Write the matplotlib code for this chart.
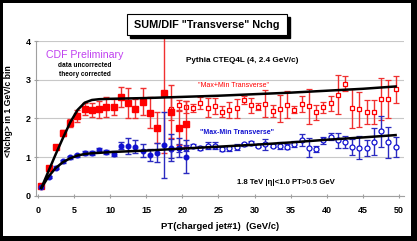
import matplotlib
matplotlib.use("Agg")
import matplotlib.pyplot as plt
from matplotlib.patches import Rectangle

# ---------------- data ----------------
pt_filled = [0.5, 1.5, 2.5, 3.5, 4.5, 5.5, 6.5, 7.5, 8.5, 9.5, 10.5,
             11.5, 12.5, 13.5, 14.5, 15.5, 16.5, 17.5, 18.5, 19.5, 20.5]
pt_open = [18.5, 19.5, 20.5, 21.5, 22.5, 23.5, 24.5, 25.5, 26.5, 27.5, 28.5,
           29.5, 30.5, 31.5, 32.5, 33.5, 34.5, 35.5, 36.5, 37.5, 38.5, 39.5,
           40.5, 41.5, 42.5, 43.5, 44.5, 45.5, 46.5, 47.5, 48.5, 49.5]

sum_filled = [0.26, 0.71, 1.26, 1.62, 1.88, 2.07, 2.24, 2.22, 2.24, 2.30, 2.30,
              2.56, 2.40, 2.25, 2.44, 2.15, 1.76, 2.65, 2.18, 1.76, 1.86]
sum_filled_err = [0.03, 0.03, 0.05, 0.08, 0.10, 0.15, 0.15, 0.18, 0.22, 0.25, 0.20,
                  0.25, 0.40, 0.25, 0.35, 0.40, 0.40, 1.55, 0.68, 0.45, 0.60]
sum_open = [2.25, 2.34, 2.30, 2.28, 2.40, 2.28, 2.32, 2.18, 2.22, 2.26, 2.48,
            2.34, 2.31, 2.38, 2.19, 2.25, 2.35, 2.23, 2.37, 2.32, 2.16, 2.29,
            2.39, 2.62, 2.90, 2.26, 2.24, 2.17, 2.17, 2.50, 2.50, 2.76]
sum_open_err = [0.30, 0.15, 0.15, 0.10, 0.15, 0.25, 0.20, 0.15, 0.20, 0.25, 0.10,
                0.20, 0.10, 0.35, 0.15, 0.35, 0.35, 0.10, 0.20, 0.45, 0.20, 0.15,
                0.20, 0.50, 0.20, 0.50, 0.45, 0.30, 0.30, 0.55, 0.50, 0.35]

dif_filled = [0.22, 0.48, 0.73, 0.89, 1.00, 1.05, 1.11, 1.11, 1.19, 1.13, 1.09,
              1.30, 1.29, 1.27, 1.17, 1.05, 1.11, 1.31, 1.24, 1.24, 1.01]
dif_filled_err = [0.03, 0.03, 0.03, 0.04, 0.04, 0.04, 0.05, 0.05, 0.05, 0.06, 0.07,
                  0.10, 0.20, 0.17, 0.17, 0.15, 0.25, 0.85, 0.35, 0.25, 0.43]
dif_open = [1.22, 1.23, 1.24, 1.29, 1.24, 1.30, 1.30, 1.20, 1.23, 1.27, 1.33,
            1.36, 1.30, 1.33, 1.30, 1.30, 1.27, 1.34, 1.44, 1.24, 1.21, 1.43,
            1.53, 1.43, 1.39, 1.26, 1.24, 1.24, 1.40, 1.67, 1.38, 1.26]
dif_open_err = [0.25, 0.10, 0.08, 0.06, 0.05, 0.08, 0.08, 0.05, 0.06, 0.08, 0.04,
                0.05, 0.05, 0.15, 0.05, 0.08, 0.06, 0.08, 0.15, 0.25, 0.08, 0.10,
                0.10, 0.20, 0.15, 0.20, 0.30, 0.20, 0.35, 0.40, 0.40, 0.27]

theory_pt = [0.5, 1.5, 2.5, 3.5, 4.5, 5.5, 6.5, 7.5, 8.5, 10, 15, 20, 25, 30, 35, 40, 45, 49.5]
theory_sum = [0.20, 0.64, 1.08, 1.50, 1.90, 2.22, 2.41, 2.48, 2.50, 2.51, 2.53, 2.56,
              2.59, 2.63, 2.67, 2.72, 2.77, 2.83]
theory_dif = [0.20, 0.50, 0.72, 0.87, 0.97, 1.04, 1.08, 1.10, 1.11, 1.13, 1.17, 1.22,
              1.27, 1.32, 1.38, 1.45, 1.51, 1.57]

x_ticks = [0, 5, 10, 15, 20, 25, 30, 35, 40, 45, 50]
y_ticks = [0, 1, 2, 3, 4]

# ---------------- figure ----------------
FONT = "Liberation Sans"
fig = plt.figure(figsize=(4.17, 2.41), dpi=100)
fig.patch.set_facecolor("white")

ax = fig.add_axes([0.0856, 0.188, 0.883, 0.6406])
ax.set_xlim(-0.28, 50.65)
ax.set_ylim(0, 4)

ax.set_yticks(y_ticks)
ax.set_xticks(x_ticks)
ax.grid(axis="y", color="#c8c8c8", lw=0.8)
ax.set_axisbelow(True)
for s in ["top", "right"]:
    ax.spines[s].set_visible(False)
for s in ["left", "bottom"]:
    ax.spines[s].set_color("#a0a0a0")
    ax.spines[s].set_linewidth(0.8)
ax.tick_params(axis="both", colors="#a0a0a0", length=3, width=0.8, direction="inout",
               labelcolor="black", pad=2)
ax.tick_params(axis="x", pad=6)
for lbl in ax.get_xticklabels() + ax.get_yticklabels():
    lbl.set_fontfamily(FONT)
    lbl.set_fontweight("bold")
    lbl.set_fontsize(6.5)

red = "#ff0000"
redbar = "#f03030"
blue = "#1010d0"
bluebar = "#2a2ac0"

# theory curves
ax.plot(theory_pt, theory_sum, color="black", lw=1.8, zorder=5)
ax.plot(theory_pt, theory_dif, color="black", lw=1.8, zorder=5)

ms = 3.8
ax.errorbar(pt_open, sum_open, yerr=sum_open_err, fmt="s", ms=ms - 0.3, mfc="white", mec=red,
            mew=0.9, ecolor=redbar, elinewidth=1.0, capsize=2.3, capthick=1.0, zorder=3,
            clip_on=False)
ax.errorbar(pt_filled, sum_filled, yerr=sum_filled_err, fmt="s", ms=ms, mfc=red, mec=red,
            ecolor=redbar, elinewidth=1.0, capsize=2.3, capthick=1.0, zorder=4, clip_on=False)
ax.errorbar(pt_open, dif_open, yerr=dif_open_err, fmt="o", ms=ms - 0.2, mfc="white", mec=blue,
            mew=0.9, ecolor=bluebar, elinewidth=1.0, capsize=2.3, capthick=1.0, zorder=3,
            clip_on=False)
ax.errorbar(pt_filled, dif_filled, yerr=dif_filled_err, fmt="o", ms=ms - 0.5, mfc=blue, mec=blue,
            ecolor=bluebar, elinewidth=1.0, capsize=2.3, capthick=1.0, zorder=4, clip_on=False)

# axis labels
ax.set_xlabel("PT(charged jet#1)  (GeV/c)", fontfamily=FONT, fontweight="bold",
              fontsize=6.8, labelpad=5)
fig.text(0.020, 0.54, "<Nchg> in 1 GeV/c bin", rotation=90, ha="center", va="center",
         fontfamily=FONT, fontweight="bold", fontsize=6.2)

# annotations
fig.text(85 / 417, 1 - 55 / 241, "CDF Preliminary", color="#c040f0", ha="center", va="center",
         fontfamily=FONT, fontsize=7.6)
fig.text(85 / 417, 1 - 65.5 / 241, "data uncorrected", ha="center", va="center",
         fontfamily=FONT, fontweight="bold", fontsize=4.7)
fig.text(85 / 417, 1 - 75 / 241, "theory corrected", ha="center", va="center",
         fontfamily=FONT, fontweight="bold", fontsize=4.7)
fig.text(242 / 417, 1 - 61 / 241, "Pythia CTEQ4L (4, 2.4 GeV/c)", ha="center", va="center",
         fontfamily=FONT, fontweight="bold", fontsize=5.9)
fig.text(233 / 417, 1 - 85 / 241, "\"Max+Min Transverse\"", color=red, ha="center", va="center",
         fontfamily=FONT, fontsize=5.0)
fig.text(237 / 417, 1 - 133 / 241, "\"Max-Min Transverse\"", color=blue, ha="center", va="center",
         fontfamily=FONT, fontweight="bold", fontsize=5.0)
fig.text(286 / 417, 1 - 183 / 241, "1.8 TeV |\u03b7|<1.0 PT>0.5 GeV", ha="center", va="center",
         fontfamily=FONT, fontweight="bold", fontsize=5.6)

# title box with shadow
bx0, by0, bw, bh = 127 / 417, 1 - 35 / 241, 160 / 417, 21 / 241
fig.patches.append(Rectangle((bx0 + 3 / 417, by0 - 3 / 241), bw, bh, transform=fig.transFigure,
                             facecolor="black", edgecolor="black", zorder=1))
fig.patches.append(Rectangle((bx0, by0), bw, bh, transform=fig.transFigure,
                             facecolor="white", edgecolor="black", lw=0.8, zorder=2))
fig.text(bx0 + bw / 2, by0 + bh / 2, "SUM/DIF \"Transverse\" Nchg", ha="center", va="center",
         fontfamily=FONT, fontweight="bold", fontsize=7.8, zorder=3)

# outer frame (thin left/top, thick right/bottom)
fig.patches.append(Rectangle((0, 0), 3 / 417, 1, transform=fig.transFigure,
                             facecolor="black", edgecolor="none"))
fig.patches.append(Rectangle((0, 1 - 3 / 241), 1, 3 / 241, transform=fig.transFigure,
                             facecolor="black", edgecolor="none"))
fig.patches.append(Rectangle((1 - 6 / 417, 0), 6 / 417, 1, transform=fig.transFigure,
                             facecolor="black", edgecolor="none"))
fig.patches.append(Rectangle((0, 0), 1, 5 / 241, transform=fig.transFigure,
                             facecolor="black", edgecolor="none"))

fig.savefig("out.png", dpi=100)
